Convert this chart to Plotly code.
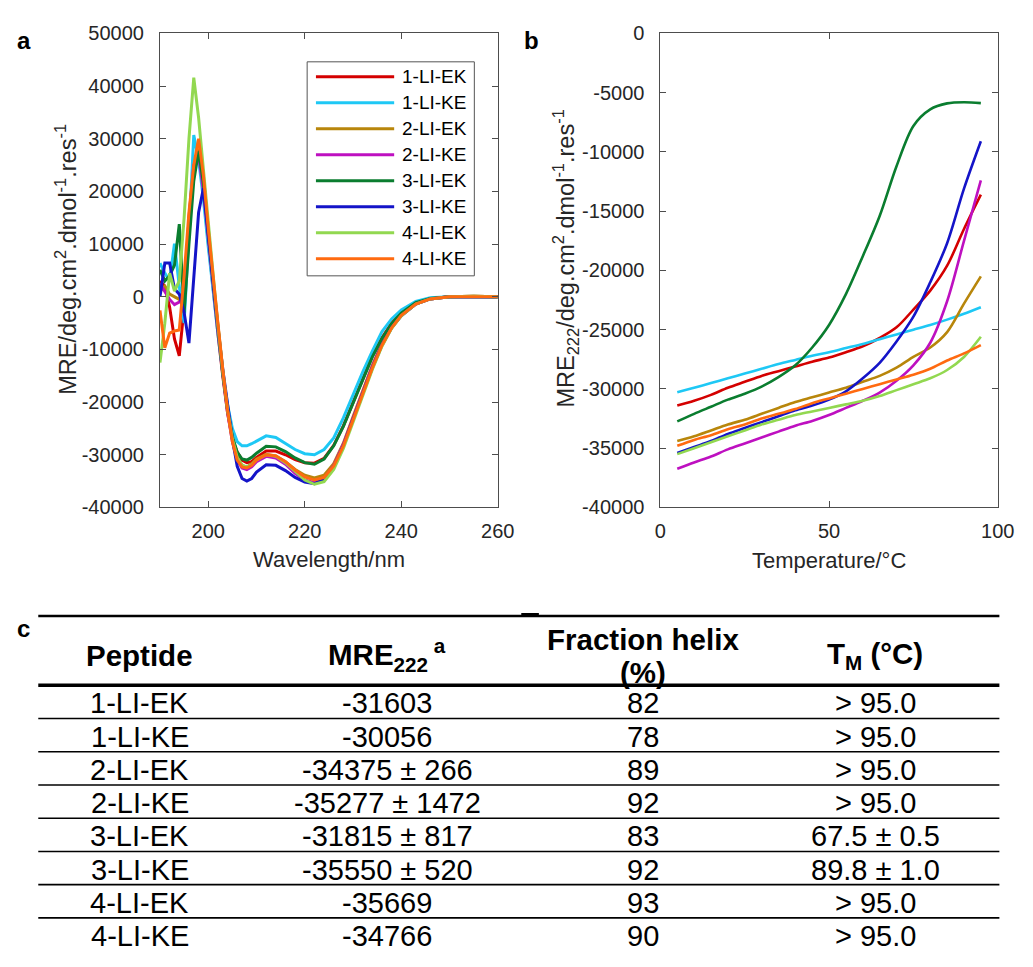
import plotly.graph_objects as go

W, H = 1033, 967
FONT = "Liberation Sans, Arial, sans-serif"
TXT = "#262626"
AX = "#4d4d4d"

# ---------------- data ----------------
PEPTIDES = ["1-LI-EK", "1-LI-KE", "2-LI-EK", "2-LI-KE",
            "3-LI-EK", "3-LI-KE", "4-LI-EK", "4-LI-KE"]
COLORS = ["#D40000", "#1EC8F5", "#B8860B", "#BE10C0",
          "#0A7D2F", "#1414C8", "#92D850", "#FF6A10"]

# panel a: CD spectra (MRE vs wavelength)
WAVELENGTH = [190, 191, 192, 193, 194, 195, 196, 197, 198, 199, 200,
              201, 202, 203, 204, 205, 206, 207, 208, 209, 210,
              212, 214, 216, 218, 220, 222, 224, 226, 228, 230,
              232, 234, 236, 238, 240, 243, 246, 250, 255, 260]

CD_1_LI_EK = [3000, 2000, -2000, -8000, -11200, -2000, 15000, 25000, 27500, 20000, 10500,
              1500, -7000, -15000, -22000, -27000, -29500, -31000, -31500, -31300, -30500,
              -29300, -29300, -30000, -30900, -31500, -31600, -30700, -28200, -24500, -20000,
              -15500, -11300, -7800, -5000, -3000, -1100, -300, 0, 100, 0]
CD_1_LI_KE = [6400, 4500, 3000, 10100, 2000, -5000, 12000, 30700, 26000, 18500, 9500,
              1000, -7000, -14500, -20500, -25000, -27500, -28300, -28300, -27900, -27400,
              -26400, -26700, -27800, -29000, -29800, -30000, -29000, -26800, -23000, -18600,
              -14300, -10300, -6600, -4200, -2500, -900, -200, 0, 0, -100]
CD_2_LI_EK = [1000, 2000, 500, 0, -500, 1000, 12000, 24000, 28000, 21000, 12000,
              3000, -5500, -14000, -21500, -27000, -30500, -32000, -32300, -31700, -30800,
              -29900, -30200, -31300, -32800, -33900, -34400, -33900, -31700, -27800, -22800,
              -17800, -13000, -8900, -5700, -3400, -1300, -400, 0, 100, 0]
CD_2_LI_KE = [2500, 1000, -500, -1500, -1000, 0, 14000, 25000, 27000, 20000, 11000,
              2000, -6500, -14500, -22000, -27500, -31000, -32500, -32800, -32300, -31300,
              -30300, -30600, -31800, -33500, -34800, -35300, -34500, -32000, -28000, -23000,
              -18000, -13200, -9000, -5800, -3500, -1400, -400, 0, 0, 0]
CD_3_LI_EK = [5100, 3000, 4000, 6000, 13800, -3000, 10000, 22000, 27700, 21500, 12000,
              2500, -6000, -14500, -21500, -26500, -29500, -30800, -31000, -30500, -29700,
              -28400, -28500, -29400, -30600, -31500, -31800, -30800, -28300, -24600, -20100,
              -15600, -11400, -7900, -5100, -3100, -1100, -300, 0, 0, 0]
CD_3_LI_KE = [0, 6400, 6400, 1500, 500, -3000, -8800, 4000, 16000, 20600, 11500,
              2500, -5800, -13700, -20500, -27000, -32200, -34500, -35000, -34500, -33300,
              -31900, -32000, -33000, -34300, -35200, -35500, -34600, -32200, -28300, -23300,
              -18300, -13500, -9200, -5900, -3600, -1400, -400, 0, 0, 0]
CD_4_LI_EK = [-12500, -5000, 4500, 1100, 3000, 15000, 30000, 41600, 34000, 24000, 13500,
              3500, -5500, -14000, -21500, -27000, -30500, -32000, -32300, -31900, -31000,
              -30000, -30300, -31500, -33200, -34800, -35600, -35100, -32800, -28800, -23800,
              -18700, -13800, -9400, -6000, -3600, -1400, -400, 0, 100, 0]
CD_4_LI_KE = [-2600, -9700, -6900, -6500, -6300, 4000, 16000, 25000, 30000, 23000, 13000,
              3500, -5000, -13700, -21500, -27500, -31000, -32300, -32500, -32000, -31000,
              -30000, -30200, -31300, -32900, -34200, -34800, -34300, -32100, -28300, -23300,
              -18300, -13500, -9200, -5900, -3500, -1400, -400, 0, 0, 0]
CD_SERIES = [CD_1_LI_EK, CD_1_LI_KE, CD_2_LI_EK, CD_2_LI_KE,
             CD_3_LI_EK, CD_3_LI_KE, CD_4_LI_EK, CD_4_LI_KE]

# panel b: thermal denaturation (MRE222 vs temperature)
TEMPERATURE = [5, 10, 15, 20, 25, 30, 35, 40, 45, 50, 55, 60, 65, 70, 75, 80, 85, 90, 95]
MELT_1_LI_EK = [-31400, -31000, -30500, -29900, -29400, -28900, -28500, -28100, -27700, -27350,
                -26900, -26400, -25700, -24800, -23300, -21700, -19600, -16500, -13600]
MELT_1_LI_KE = [-30270, -29900, -29500, -29100, -28700, -28300, -27900, -27550, -27200, -26900,
                -26550, -26200, -25800, -25400, -25000, -24600, -24150, -23650, -23100]
MELT_2_LI_EK = [-34400, -34000, -33500, -33000, -32600, -32100, -31600, -31100, -30700, -30300,
                -29900, -29400, -28900, -28200, -27300, -26500, -25200, -22800, -20500]
MELT_2_LI_KE = [-36730, -36200, -35700, -35100, -34600, -34100, -33600, -33100, -32700, -32200,
                -31600, -31000, -30300, -29300, -28000, -26100, -22600, -17500, -12400]
MELT_3_LI_EK = [-32740, -32100, -31500, -30900, -30400, -29800, -29000, -28000, -26500, -24600,
                -22000, -18800, -15400, -11200, -7800, -6400, -5900, -5800, -5880]
MELT_3_LI_KE = [-35400, -34900, -34400, -33800, -33300, -32800, -32300, -31800, -31400, -30900,
                -30200, -29100, -27800, -26000, -23900, -21000, -17700, -13100, -9100]
MELT_4_LI_EK = [-35500, -35000, -34500, -34000, -33500, -33000, -32600, -32200, -31900, -31600,
                -31300, -31000, -30600, -30100, -29600, -29100, -28400, -27300, -25600]
MELT_4_LI_KE = [-34800, -34300, -33900, -33400, -33000, -32500, -32100, -31700, -31200, -30800,
                -30400, -30000, -29600, -29200, -28800, -28300, -27600, -27000, -26300]
MELT_SERIES = [MELT_1_LI_EK, MELT_1_LI_KE, MELT_2_LI_EK, MELT_2_LI_KE,
               MELT_3_LI_EK, MELT_3_LI_KE, MELT_4_LI_EK, MELT_4_LI_KE]

# tick labels
A_XTICKS = [200, 220, 240, 260]
A_YTICKS = [50000, 40000, 30000, 20000, 10000, 0, -10000, -20000, -30000, -40000]
B_XTICKS = [0, 50, 100]
B_YTICKS = [0, -5000, -10000, -15000, -20000, -25000, -30000, -35000, -40000]

# panel c: table
TABLE_HEADER = ["<b>Peptide</b>", "<b>MRE<sub>222</sub><sup> a</sup></b>",
                "<b>Fraction helix</b>", "<b>T<sub>M</sub> (°C)</b>"]
TABLE_HEADER_2 = ["", "", "<b>(%)</b>", ""]
TABLE_MRE222 = ["-31603", "-30056", "-34375 ± 266", "-35277 ± 1472",
                "-31815 ± 817", "-35550 ± 520", "-35669", "-34766"]
TABLE_HELIX = ["82", "78", "89", "92", "83", "92", "93", "90"]
TABLE_TM = ["> 95.0", "> 95.0", "> 95.0", "> 95.0",
            "67.5 ± 0.5", "89.8 ± 1.0", "> 95.0", "> 95.0"]


# ---------------- helpers (pixel -> paper) ----------------
def px(x):
    return x / W


def py(y):
    return 1 - y / H


fig = go.Figure()

for name, color, vals in zip(PEPTIDES, COLORS, CD_SERIES):
    fig.add_trace(go.Scatter(x=WAVELENGTH, y=vals, mode="lines", name=name,
                             line=dict(color=color, width=3),
                             xaxis="x", yaxis="y", showlegend=False))

for name, color, vals in zip(PEPTIDES, COLORS, MELT_SERIES):
    fig.add_trace(go.Scatter(x=TEMPERATURE, y=vals, mode="lines", name=name,
                             line=dict(color=color, width=2.6, shape="spline", smoothing=0.9),
                             xaxis="x2", yaxis="y2", showlegend=False))


def fmt(v):
    return str(v)  # plain hyphen-minus, as in MATLAB


axis_style = dict(showline=True, linecolor=AX, linewidth=1, mirror="ticks",
                  ticks="inside", ticklen=6, tickwidth=1, tickcolor=AX,
                  showgrid=False, zeroline=False,
                  tickfont=dict(family=FONT, size=20, color=TXT))

fig.update_layout(
    width=W, height=H, margin=dict(l=0, r=0, t=0, b=0),
    paper_bgcolor="white", plot_bgcolor="white",
    xaxis=dict(domain=[px(157.5), px(503)], range=[190, 260], anchor="y",
               tickvals=A_XTICKS, ticktext=[fmt(v) for v in A_XTICKS],
               ticklabelstandoff=6, **axis_style),
    yaxis=dict(domain=[py(508), py(23)], range=[-40000, 50000], anchor="x",
               tickvals=A_YTICKS, ticktext=[fmt(v) for v in A_YTICKS],
               ticklabelstandoff=11, **axis_style),
    xaxis2=dict(domain=[px(669.3), px(1014.3)], range=[0, 100], anchor="y2",
                tickvals=B_XTICKS, ticktext=[fmt(v) for v in B_XTICKS],
                ticklabelstandoff=6, **axis_style),
    yaxis2=dict(domain=[py(508), py(23)], range=[-40000, 0], anchor="x2",
                tickvals=B_YTICKS, ticktext=[fmt(v) for v in B_YTICKS],
                ticklabelstandoff=11, **axis_style),
    xaxis3=dict(domain=[0, 1], range=[0, W], anchor="y3", visible=False),
    yaxis3=dict(domain=[0, py(600)], range=[H, 600], anchor="x3", visible=False),
)

ann = []
shapes = []


def label(text, x, y, size, color=TXT, angle=0, xanchor="center"):
    ann.append(dict(text=text, x=px(x), y=py(y), xref="paper", yref="paper",
                    xanchor=xanchor, yanchor="middle", textangle=angle,
                    showarrow=False, font=dict(family=FONT, size=size, color=color)))


# axis titles
label("Wavelength/nm", 330, 561, 22)
label("Temperature/°C", 841.5, 562, 22)
label("MRE/deg.cm<sup>2</sup>.dmol<sup>-1</sup>.res<sup>-1</sup>", 62, 254, 23.5, angle=-90)
label("MRE<sub>222</sub>/deg.cm<sup>2</sup>.dmol<sup>-1</sup>.res<sup>-1</sup>", 572, 253, 23.5, angle=-90)

# panel letters
label("<b>a</b>", 18, 30, 24, color="black")
label("<b>b</b>", 537, 30, 24, color="black")
label("<b>c</b>", 18, 632, 24, color="black")

# legend for panel a (box, line samples, labels)
shapes.append(dict(type="rect", xref="paper", yref="paper",
                   x0=px(308), x1=px(479), y0=py(52), y1=py(271),
                   line=dict(color="#555555", width=1), fillcolor="white", layer="below"))
for i, (name, color) in enumerate(zip(PEPTIDES, COLORS)):
    yy = 67.3 + i * 26.6
    shapes.append(dict(type="line", xref="paper", yref="paper",
                       x0=px(317), x1=px(397), y0=py(yy), y1=py(yy),
                       line=dict(color=color, width=3)))
    label(name, 403, yy, 19, color="black", xanchor="left")

# table (in x3/y3 coordinates)
COL_X = [137, 390, 651, 889]
LINE_X0, LINE_X1 = 33, 1016
TOP_LINE, HEAD_LINE, PITCH = 619, 690, 34.0
shapes.append(dict(type="line", xref="x3", yref="y3", x0=LINE_X0, x1=LINE_X1,
                   y0=TOP_LINE, y1=TOP_LINE, line=dict(color="black", width=2.5)))
shapes.append(dict(type="line", xref="x3", yref="y3", x0=527, x1=545,
                   y0=617, y1=617, line=dict(color="black", width=2)))
shapes.append(dict(type="line", xref="x3", yref="y3", x0=LINE_X0, x1=LINE_X1,
                   y0=HEAD_LINE, y1=HEAD_LINE, line=dict(color="black", width=3.5)))
for i in range(1, len(PEPTIDES)):
    yl = HEAD_LINE + PITCH * i
    shapes.append(dict(type="line", xref="x3", yref="y3", x0=LINE_X0, x1=LINE_X1,
                       y0=yl, y1=yl, line=dict(color="black", width=1.6)))


def cell(text, x, y, size):
    ann.append(dict(text=text, x=x, y=y, xref="x3", yref="y3",
                    xanchor="center", yanchor="middle", showarrow=False,
                    font=dict(family=FONT, size=size, color="black")))


for j in range(4):
    if TABLE_HEADER_2[j]:
        cell(TABLE_HEADER[j], COL_X[j], 643, 29.5)
        cell(TABLE_HEADER_2[j], COL_X[j], 677, 29.5)
    else:
        cell(TABLE_HEADER[j], COL_X[j], 659, 29.5)

for i in range(len(PEPTIDES)):
    yc = HEAD_LINE + PITCH * (i + 0.5) + 1.5
    row = [PEPTIDES[i], TABLE_MRE222[i], TABLE_HELIX[i], TABLE_TM[i]]
    for j, txt in enumerate(row):
        cell(txt, COL_X[j], yc, 29)

fig.update_layout(annotations=ann, shapes=shapes)
fig.write_html("out.html")
